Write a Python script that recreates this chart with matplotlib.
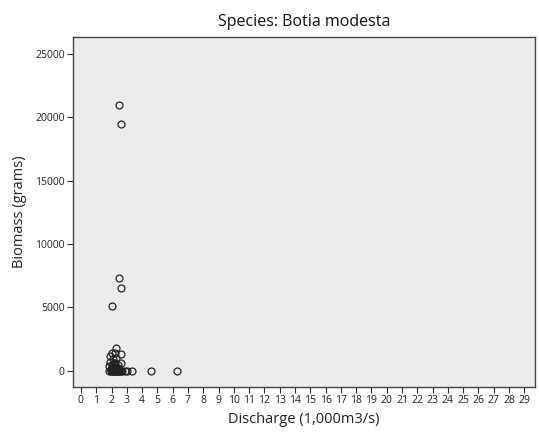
import matplotlib.pyplot as plt

plt.rcParams['font.family'] = ['Open Sans', 'DejaVu Sans']

# discharge (1,000 m3/s) and biomass (grams)
discharge = [2.49, 2.60, 2.49, 2.60, 2.00,
             2.27, 2.05, 2.22, 2.60, 1.92, 1.88, 2.22, 2.62, 1.86,
             2.10, 2.30, 2.45, 2.05, 2.35, 2.15,
             1.85, 1.95, 2.00, 2.05, 2.10, 2.15, 2.20, 2.25, 2.30, 2.35,
             2.40, 2.45, 2.50, 2.55, 2.60, 2.70, 2.88, 3.03, 3.36, 4.56, 6.30,
             1.95, 2.05, 2.15, 2.25, 2.35, 2.45, 2.00, 2.20, 2.40,
             1.98, 2.08, 2.18, 2.28, 2.12, 2.22]
biomass = [21000, 19500, 7350, 6500, 5100,
           1770, 1350, 1370, 1300, 1170, 710, 580, 580, 320,
           900, 1000, 400, 450, 200, 600,
           0, 0, 0, 0, 0, 0, 0, 0, 0, 0,
           0, 0, 0, 0, 0, 0, 0, 0, 0, 0, 0,
           100, 150, 80, 120, 60, 90, 250, 300, 180,
           40, 30, 50, 20, 200, 150]

fig = plt.figure(figsize=(5.39, 4.34), dpi=100)
ax = fig.add_axes([0.1354, 0.1083, 0.8572, 0.8064])
ax.set_facecolor('#ececee')

ax.plot(discharge, biomass, linestyle='none', marker='o', markersize=5,
        markerfacecolor='none', markeredgecolor='#222222', markeredgewidth=0.9)

ax.set_xlim(-0.52, 29.7)
ax.set_ylim(-1300, 26350)
ax.set_xticks(range(0, 30))
ax.set_yticks(range(0, 25001, 5000))
ax.tick_params(axis='both', direction='out', length=4, width=0.8,
               color='#333333', labelsize=7.5, labelcolor='#222222', pad=2)

for s in ax.spines.values():
    s.set_color('#444444')
    s.set_linewidth(1)

ax.set_title('Species: Botia modesta', fontsize=11.5, color='#111111', pad=8)
ax.set_xlabel('Discharge (1,000m3/s)', fontsize=10.5, color='#222222', labelpad=4)
ax.set_ylabel('Biomass (grams)', fontsize=10.5, color='#222222', labelpad=6)

fig.savefig('out.png', dpi=100)
